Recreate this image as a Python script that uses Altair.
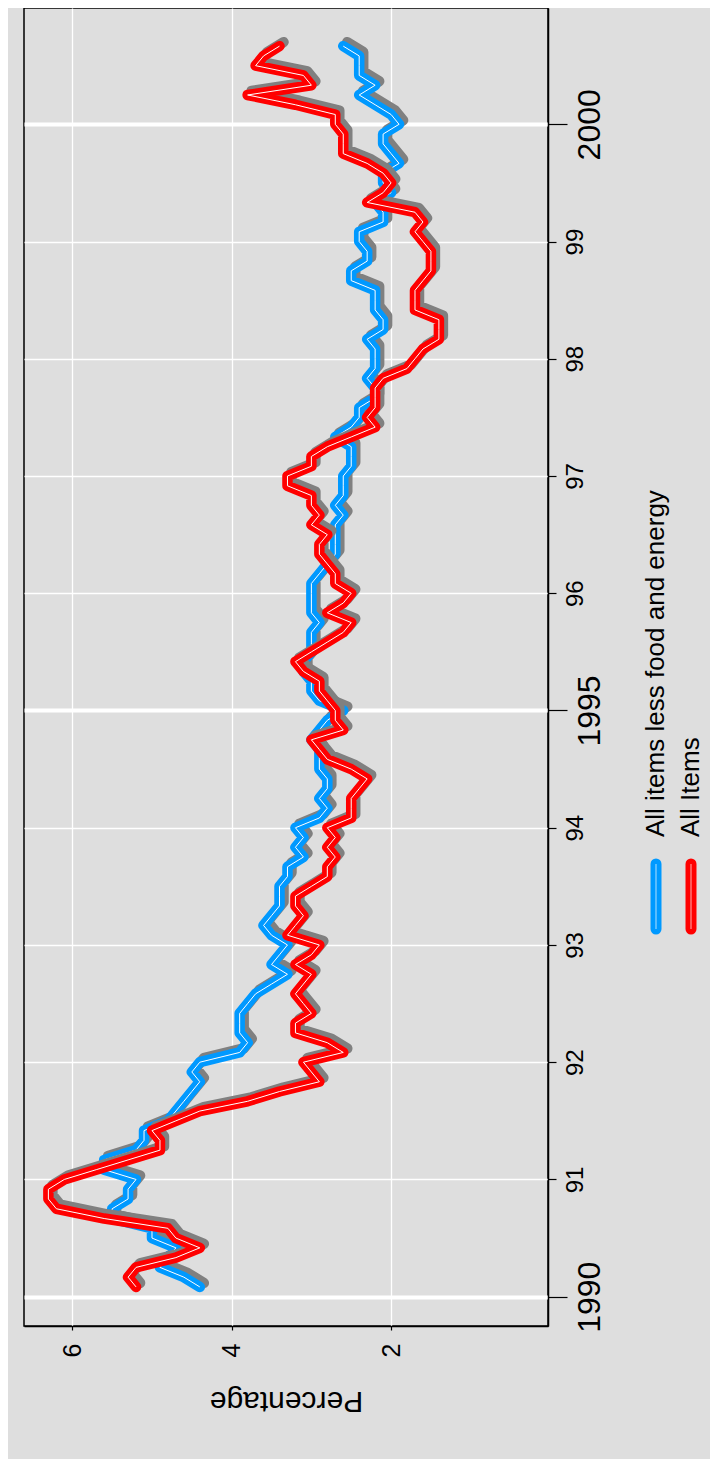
import altair as alt
import pandas as pd

FONT = "Liberation Sans"

series_names = ["All items less food and energy", "All Items"]
series_colors = ["#0099ff", "#ff0000"]

year_ticks = list(range(1990, 2001))
pct_ticks = [2, 4, 6]

# 12-month percent change, monthly Jan 1990 .. Aug 2000
all_items = [
    5.2, 5.3, 5.2, 4.7, 4.4, 4.7, 4.8, 5.6, 6.2, 6.3, 6.3, 6.1,
    5.7, 5.3, 4.9, 4.9, 5.0, 4.7, 4.4, 3.8, 3.4, 2.9, 3.0, 3.1,
    2.6, 2.8, 3.2, 3.2, 3.0, 3.1, 3.2, 3.1, 3.0, 3.2, 3.0, 2.9,
    3.3, 3.2, 3.1, 3.2, 3.2, 3.0, 2.8, 2.8, 2.7, 2.8, 2.7, 2.8,
    2.5, 2.5, 2.5, 2.4, 2.3, 2.5, 2.8, 2.9, 3.0, 2.6, 2.7, 2.7,
    2.8, 2.9, 2.9, 3.1, 3.2, 3.0, 2.8, 2.6, 2.5, 2.8, 2.6, 2.5,
    2.7, 2.7, 2.8, 2.9, 2.9, 2.8, 3.0, 2.9, 3.0, 3.0, 3.3, 3.3,
    3.0, 3.0, 2.8, 2.5, 2.2, 2.3, 2.2, 2.2, 2.2, 2.1, 1.8, 1.7,
    1.6, 1.4, 1.4, 1.4, 1.7, 1.7, 1.7, 1.6, 1.5, 1.5, 1.5, 1.6,
    1.7, 1.6, 1.7, 2.3, 2.1, 2.0, 2.1, 2.3, 2.6, 2.6, 2.6, 2.7,
    2.7, 3.2, 3.8, 3.0, 3.1, 3.7, 3.6, 3.4,
]
core = [
    4.4, 4.6, 4.9, 4.8, 4.7, 5.0, 5.0, 5.5, 5.5, 5.3, 5.3, 5.2,
    5.6, 5.6, 5.2, 5.1, 5.1, 4.8, 4.7, 4.6, 4.5, 4.4, 4.5, 4.4,
    3.9, 3.8, 3.9, 3.9, 3.9, 3.8, 3.7, 3.5, 3.3, 3.5, 3.4, 3.3,
    3.5, 3.6, 3.5, 3.4, 3.4, 3.4, 3.3, 3.3, 3.1, 3.2, 3.1, 3.2,
    2.9, 2.8, 2.9, 2.8, 2.8, 2.9, 2.9, 2.9, 3.0, 2.9, 2.8, 2.6,
    2.9, 3.0, 3.0, 3.1, 3.1, 3.0, 3.0, 3.0, 2.9, 3.0, 3.0, 3.0,
    3.0, 2.9, 2.8, 2.7, 2.7, 2.7, 2.7, 2.6, 2.7, 2.6, 2.6, 2.6,
    2.5, 2.5, 2.5, 2.7, 2.5, 2.4, 2.4, 2.2, 2.2, 2.3, 2.2, 2.2,
    2.2, 2.3, 2.1, 2.1, 2.2, 2.2, 2.2, 2.5, 2.5, 2.3, 2.3, 2.4,
    2.4, 2.1, 2.1, 2.2, 2.0, 2.1, 2.1, 1.9, 2.0, 2.1, 2.1, 1.9,
    2.0, 2.2, 2.4, 2.2, 2.4, 2.4, 2.4, 2.6,
]

times = [1990 + (i + 1) / 12 for i in range(len(all_items))]

rows = []
for name, vals in zip(series_names, [core, all_items]):
    for i, (t, v) in enumerate(zip(times, vals)):
        rows.append({"series": name, "t": t, "value": v, "i": i})
df = pd.DataFrame(rows)

major = "datum.value % 5 === 0"

X = alt.X(
    "value:Q",
    scale=alt.Scale(domain=[6.606, 0.031], nice=False, zero=False),
    axis=alt.Axis(
        orient="bottom", values=pct_ticks, labelAngle=270, labelAlign="right",
        labelBaseline="middle", labelFontSize=25, labelPadding=13, tickSize=4,
        gridWidth=1.3, title="Percentage", titleAngle=180, titleFontSize=30,
        titleY=74, titleBaseline="middle", titleFontWeight="normal",
        domainWidth=1.5, tickWidth=1.2,
    ),
)
Y = alt.Y(
    "t:Q",
    scale=alt.Scale(domain=[1989.75, 2000.992], nice=False, zero=False),
    axis=alt.Axis(
        orient="right", values=year_ticks,
        labelExpr="datum.value % 5 === 0 ? format(datum.value, 'd') : format(datum.value % 100, '02d')",
        labelAngle=270, labelAlign="center", labelBaseline="top",
        labelFontSize={"condition": {"test": major, "value": 32}, "value": 24},
        tickSize={"condition": {"test": major, "value": 19}, "value": 8},
        gridWidth={"condition": {"test": major, "value": 4}, "value": 1.3},
        labelPadding=7, title=None, domainWidth=1.5, tickWidth=1.2,
    ),
)

layers = []
for name, color in zip(series_names, series_colors):
    base = alt.Chart(df).transform_filter(alt.datum.series == name).encode(
        x=X, y=Y, order="i:Q"
    )
    layers.append(base.mark_line(color="#808080", strokeWidth=10.5, strokeCap="round",
                                 strokeJoin="round", xOffset=4, yOffset=-4))
    layers.append(base.mark_line(color=color, strokeWidth=10.5, strokeCap="round",
                                 strokeJoin="round"))
    layers.append(base.mark_line(color="white", strokeWidth=1, strokeJoin="round"))

legend_df = pd.DataFrame({"series": series_names, "color": series_colors})
leg_x = [632, 667]
for name, color, lx in zip(series_names, series_colors, leg_x):
    lb = alt.Chart(legend_df).transform_filter(alt.datum.series == name)
    layers.append(lb.mark_rule(color=color, strokeWidth=11, strokeCap="round").encode(
        x=alt.value(lx), y=alt.value(856), y2=alt.value(921)))
    layers.append(lb.mark_rule(color="#ffb0b0" if color == "#ff0000" else "#b0e0ff",
                               strokeWidth=1).encode(
        x=alt.value(lx), y=alt.value(856), y2=alt.value(921)))
    layers.append(lb.mark_text(angle=270, align="left", baseline="middle", fontSize=26,
                               font=FONT, color="black").encode(
        x=alt.value(lx), y=alt.value(829), text="series:N"))

chart = alt.layer(*layers).properties(
    width=524, height=1318, background="#dedede",
    padding={"left": 16, "top": 0, "right": 6, "bottom": 44},
).configure_view(
    stroke="black", strokeWidth=1.5
).configure_axis(
    labelFont=FONT, titleFont=FONT, labelColor="black", titleColor="black",
    domainColor="black", tickColor="black", gridColor="white",
)

chart.save("out.html", embed_options={"renderer": "svg", "actions": False})
